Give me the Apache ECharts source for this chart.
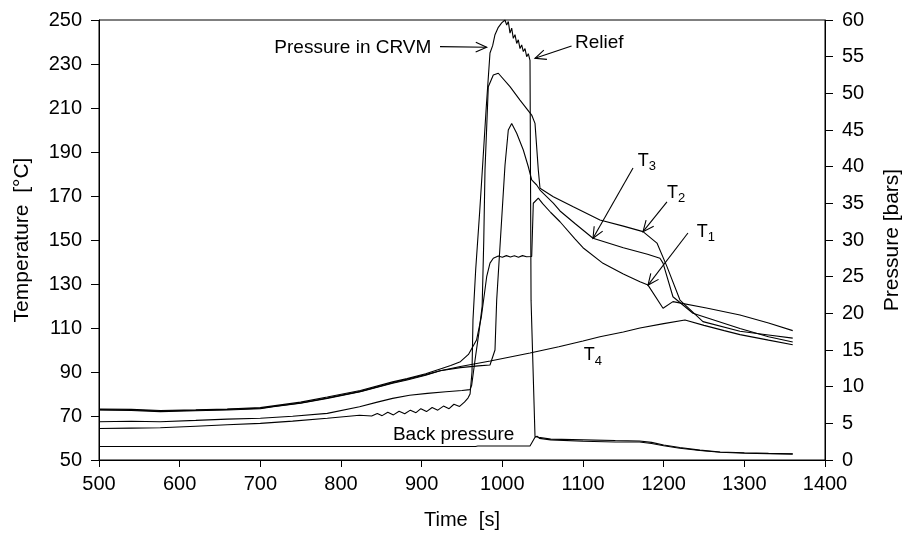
<!DOCTYPE html>
<html>
<head>
<meta charset="utf-8">
<script src="https://cdn.jsdelivr.net/npm/echarts@6/dist/echarts.min.js"></script>
<style>
  html, body { margin: 0; padding: 0; background: #fff; }
  #chart { width: 907px; height: 537px; }
</style>
</head>
<body>
<div id="chart"></div>
<script>
// Axis ranges
const timeRange = [500, 1400, 100];
const tempRange = [50, 250, 20];
const pressRange = [0, 60, 5];

// Temperatures [°C] as [time s, value]
const t1 = [[500,73.2],[540,73.0],[576,72.5],[620,72.8],[659,73.2],[700,73.8],[716,74.6],[750,76.3],[783,78.6],[824,81.6],[864,85.5],[882,87.0],[905,89.2],[923,91.4],[936,93.0],[948,94.7],[958,98.0],[968,104.5],[974,115.1],[980.6,133.3],[984.7,139.5],[988.8,141.7],[995,142.7],[1000,142.2],[1005,142.9],[1010,142.3],[1015,142.8],[1020,142.2],[1025,142.9],[1030,142.4],[1036.4,142.5],[1038.4,166.7],[1040.5,167.4],[1044.6,169.0],[1050,166.5],[1060,162.5],[1071.5,158.3],[1090,150.5],[1100,146.5],[1124.8,139.4],[1150,134.5],[1170.6,131.0],[1180.6,129.5],[1199.2,119.0],[1211.5,122.0],[1253,119.1],[1294.6,115.9],[1330,112.3],[1360,108.8]];

const t2 = [[500,67.4],[540,67.6],[576,67.4],[620,68.0],[659,68.6],[700,69.0],[740,69.9],[783,71.2],[823,74.2],[845,76.3],[864,78.0],[885,79.4],[907,80.3],[930,81.0],[950,81.6],[959.9,82.0],[962,84.0],[966,95.0],[971,108.0],[975,120.0],[977,150.0],[978.5,181.8],[982.6,219.7],[988.8,225.0],[995,225.8],[1009.5,219.7],[1021.9,213.6],[1036.4,206.8],[1040.5,203.0],[1044.6,181.8],[1046.7,173.5],[1063.2,169.7],[1087.9,165.1],[1121,159.1],[1150,156.3],[1174.4,153.8],[1191.7,148.6],[1204.1,137.9],[1220.2,122.7],[1248.7,112.9],[1294.6,108.5],[1330,106.8],[1360,105.4]];

const t3 = [[500,72.9],[540,72.7],[576,72.3],[620,72.6],[659,73.0],[700,73.5],[716,74.3],[750,75.9],[783,78.2],[824,81.2],[864,85.1],[882,86.7],[905,88.8],[923,90.6],[948,92.0],[970,92.8],[984.7,93.2],[990.9,100.0],[993.0,122.7],[1003.3,184.0],[1007.4,200.0],[1011.6,203.0],[1017.8,198.5],[1026,190.9],[1032.2,183.3],[1036.4,177.3],[1042.6,175.0],[1046.7,172.7],[1063.2,166.8],[1071.5,163.2],[1090,157.5],[1112.4,150.8],[1150,146.5],[1180,143.5],[1195.4,141.7],[1199.2,139.5],[1211.5,124.2],[1236.3,116.7],[1294.6,109.8],[1330,106.0],[1360,103.6]];

const t4 = [[500,72.7],[540,72.5],[576,72.0],[620,72.4],[659,72.7],[700,73.3],[716,74.2],[750,75.8],[783,78.0],[824,81.0],[864,84.9],[882,86.4],[905,88.5],[923,90.6],[948,92.5],[985,95.0],[1034.3,98.6],[1070,101.5],[1100,104.1],[1121,106.0],[1150,108.2],[1170.6,110.0],[1200,112.0],[1226.4,113.6],[1250,111.2],[1275,108.8],[1294.6,107.0],[1330,104.5],[1360,102.4]];

// Pressures [bars] as [time s, value]
const crvmPressure = [[500,4.3],[540,4.35],[576,4.4],[620,4.6],[659,4.8],[700,5.0],[740,5.3],[783,5.7],[823,6.1],[838,6.0],[845,6.35],[851,6.05],[858,6.5],[865,6.15],[872,6.65],[879,6.3],[886,6.8],[893,6.45],[899,7.0],[906,6.6],[913,7.15],[920,6.8],[927,7.35],[934,7.0],[940,7.6],[947,7.3],[953,7.9],[957.4,8.45],[960,9.0],[962.4,12.0],[963.6,19.1],[967,26.0],[972,34.0],[976,40.9],[980,48.0],[984.7,55.5],[988,56.5],[990.9,58.0],[995,59.0],[999.2,59.6],[1001.5,59.4],[1003.3,60.0],[1005.4,59.3],[1007.4,59.8],[1009.5,58.2],[1011.6,58.9],[1013.6,57.5],[1015.7,58.0],[1017.8,56.8],[1019.8,57.3],[1021.9,56.1],[1024.0,56.6],[1026.0,55.7],[1028.1,56.1],[1030.2,55.0],[1032.2,55.4],[1034.3,54.5],[1035.2,54.3],[1035.6,21.8],[1040.5,3.2],[1045,3.1],[1060,2.85],[1100,2.75],[1140,2.65],[1170,2.6],[1185,2.4],[1200,2.05],[1220,1.7],[1245,1.35],[1270,1.1],[1300,0.98],[1330,0.9],[1360,0.85]];

const backPressure = [[500,1.85],[632,1.85],[633.5,2.1],[635,1.85],[702,1.85],[703.7,2.1],[705.2,1.85],[787,1.85],[788.4,2.1],[789.9,1.85],[857,1.85],[858.6,2.1],[860.1,1.85],[898.5,1.85],[900,2.1],[901.5,1.85],[911,1.85],[912.4,2.05],[913.9,1.85],[950,1.85],[951.6,2.1],[953.1,1.85],[966.7,1.85],[968.2,2.1],[969.7,1.9],[1034.3,1.9],[1036,2.0],[1040.5,3.1],[1043,3.25],[1046,2.95],[1060,2.75],[1100,2.55],[1140,2.45],[1170,2.45],[1185,2.25],[1200,1.95],[1220,1.6],[1245,1.3],[1270,1.05],[1300,0.92],[1330,0.85],[1360,0.8]];

// Labels placed in data space [time, temperature]
const textNotes = [
  { text: 'Pressure in CRVM', at: [912, 237.6], align: 'right' },
  { text: 'Relief', at: [1090, 239.5], align: 'left' },
  { text: 'Back pressure', at: [864.4, 61.6], align: 'left' }
];
const subscriptNotes = [
  { main: 'T', sub: '3', at: [1168, 186.0] },
  { main: 'T', sub: '2', at: [1204, 171.5] },
  { main: 'T', sub: '1', at: [1241, 153.8] },
  { main: 'T', sub: '4', at: [1101, 97.5] }
];
const arrowNotes = [
  { from: [922.7, 237.9], to: [980.6, 237.6] },
  { from: [1085.8, 238.2], to: [1040.5, 232.6] },
  { from: [1162, 182.7], to: [1112.4, 150.8] },
  { from: [1204.1, 167.3], to: [1174.4, 153.8] },
  { from: [1230.1, 153.2], to: [1180.6, 129.5] }
];

const FONT = '"Liberation Sans", Arial, Helvetica, sans-serif';
const INK = '#000';

const chart = echarts.init(document.getElementById('chart'), null, { renderer: 'canvas' });

function lineSeries(name, data, axis) {
  return {
    name: name, type: 'line', yAxisIndex: axis, data: data,
    showSymbol: false, symbol: 'none', smooth: false, silent: true,
    lineStyle: { color: INK, width: 1.1 }, z: 3
  };
}
function plain(v) { return String(v); }

chart.setOption({
  animation: false,
  backgroundColor: '#fff',
  grid: {
    left: 99, right: 82, top: 20, bottom: 77,
    containLabel: false, outerBoundsMode: 'none',
    show: true, borderColor: INK, borderWidth: 1, backgroundColor: 'transparent'
  },
  xAxis: {
    type: 'value', min: timeRange[0], max: timeRange[1], interval: timeRange[2],
    name: 'Time  [s]', nameLocation: 'middle', nameGap: 50,
    nameTextStyle: { fontFamily: FONT, fontSize: 20, color: INK },
    axisLine: { show: true, lineStyle: { color: INK, width: 1 } },
    axisTick: { show: true, inside: false, length: 7, lineStyle: { color: INK } },
    axisLabel: { fontFamily: FONT, fontSize: 20, color: INK, margin: 14, formatter: plain },
    splitLine: { show: false }
  },
  yAxis: [
    {
      type: 'value', min: tempRange[0], max: tempRange[1], interval: tempRange[2], position: 'left',
      name: 'Temperature  [°C]', nameLocation: 'middle', nameGap: 66, nameRotate: 90,
      nameTextStyle: { fontFamily: FONT, fontSize: 21, color: INK },
      axisLine: { show: true, lineStyle: { color: INK, width: 1 } },
      axisTick: { show: true, inside: false, length: 8, lineStyle: { color: INK } },
      axisLabel: { fontFamily: FONT, fontSize: 20, color: INK, margin: 17, formatter: plain },
      splitLine: { show: false }
    },
    {
      type: 'value', min: pressRange[0], max: pressRange[1], interval: pressRange[2], position: 'right',
      name: 'Pressure [bars]', nameLocation: 'middle', nameGap: 57, nameRotate: 90,
      nameTextStyle: { fontFamily: FONT, fontSize: 21, color: INK },
      axisLine: { show: true, lineStyle: { color: INK, width: 1 } },
      axisTick: { show: true, inside: false, length: 8, lineStyle: { color: INK } },
      axisLabel: { fontFamily: FONT, fontSize: 20, color: INK, margin: 17, formatter: plain },
      splitLine: { show: false }
    }
  ],
  series: [
    lineSeries('T4', t4, 0),
    lineSeries('T3', t3, 0),
    lineSeries('T2', t2, 0),
    lineSeries('T1', t1, 0),
    lineSeries('Back pressure', backPressure, 1),
    lineSeries('Pressure in CRVM', crvmPressure, 1)
  ]
});

// Annotation layer: text and open-headed arrows, positioned from data coordinates
function px(p) { return chart.convertToPixel({ xAxisIndex: 0, yAxisIndex: 0 }, p); }

const graphics = [];
textNotes.forEach(function (n) {
  const p = px(n.at);
  graphics.push({
    type: 'text', x: p[0], y: p[1], silent: true,
    style: { text: n.text, fill: INK, font: '19px ' + FONT, textAlign: n.align, textVerticalAlign: 'middle' }
  });
});
subscriptNotes.forEach(function (n) {
  const p = px(n.at);
  graphics.push({
    type: 'text', x: p[0], y: p[1], silent: true,
    style: { text: n.main, fill: INK, font: '18px ' + FONT, textAlign: 'left', textVerticalAlign: 'middle' }
  });
  graphics.push({
    type: 'text', x: p[0] + 11, y: p[1] + 6, silent: true,
    style: { text: n.sub, fill: INK, font: '13px ' + FONT, textAlign: 'left', textVerticalAlign: 'middle' }
  });
});
arrowNotes.forEach(function (a) {
  const s = px(a.from), e = px(a.to);
  const ang = Math.atan2(e[1] - s[1], e[0] - s[0]);
  const head = 12, spread = 0.42;
  const l = [e[0] - head * Math.cos(ang - spread), e[1] - head * Math.sin(ang - spread)];
  const r = [e[0] - head * Math.cos(ang + spread), e[1] - head * Math.sin(ang + spread)];
  graphics.push({ type: 'line', silent: true, shape: { x1: s[0], y1: s[1], x2: e[0], y2: e[1] }, style: { stroke: INK, lineWidth: 1.1 } });
  graphics.push({ type: 'polyline', silent: true, shape: { points: [l, e, r] }, style: { stroke: INK, lineWidth: 1.1, fill: null } });
});
chart.setOption({ graphic: graphics });
</script>
</body>
</html>
